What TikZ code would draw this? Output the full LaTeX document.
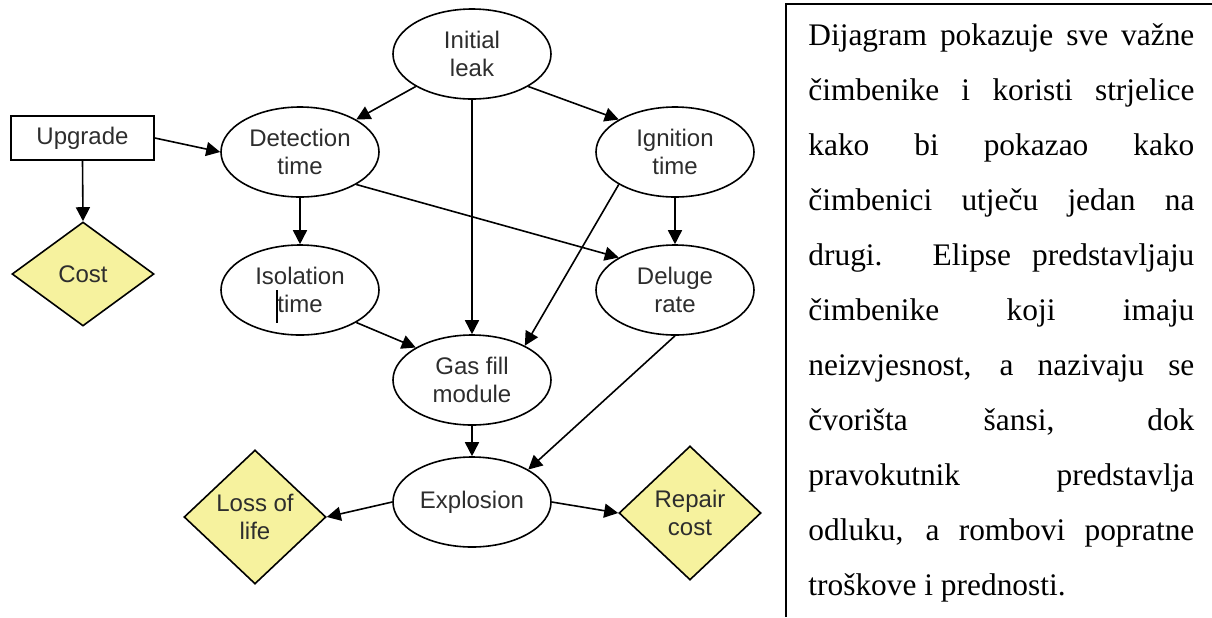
\documentclass[tikz,border=0pt]{standalone}
\usepackage{fontspec}
\setmainfont{Liberation Serif}
\newfontfamily\diagfont{Liberation Sans}
\usetikzlibrary{shapes.geometric,arrows.meta}

\definecolor{payoff}{RGB}{246,242,158}
\definecolor{ink}{RGB}{45,45,45}

\begin{document}
\begin{tikzpicture}[x=0.5pt,y=-0.5pt,
  every node/.style={font=\diagfont\fontsize{12}{14}\selectfont, text=ink},
  chance/.style={ellipse, draw, line width=0.8pt, minimum width=79pt, minimum height=45pt, inner sep=0pt, align=center},
  decision/.style={rectangle, draw, line width=0.8pt, minimum width=71.5pt, minimum height=22pt, inner sep=0pt},
  value/.style={diamond, draw, line width=0.8pt, fill=payoff, minimum width=71pt, minimum height=67pt, inner sep=0pt, align=center},
  link/.style={line width=0.8pt, -{Triangle[length=7pt,width=7pt]}},
  para/.style={anchor=base west, inner sep=0pt, text=black, font=\fontsize{15.7}{18}\selectfont},
]
\useasboundingbox (0,0) rectangle (1212,617);

% influence diagram
\node[chance] (leak) at (472,54) {Initial\\leak};
\node[chance] (det) at (300,152) {Detection\\time};
\node[chance] (ign) at (675,152) {Ignition\\time};
\node[chance] (iso) at (300,290) {Isolation\\time};
\node[chance] (del) at (675,290) {Deluge\\rate};
\node[chance] (gas) at (472,380) {Gas fill\\module};
\node[chance] (exp) at (472,502) {Explosion};
\node[decision] (up) at (82.5,138) {Upgrade};
\node[value, minimum height=52pt] (cost) at (83,274) {Cost};
\node[value] (loss) at (255,517) {Loss of\\life};
\node[value] (rep) at (690,513) {Repair\\cost};

% text cursor left inside "Isolation time"
\draw[line width=0.6pt] (277,290) -- (277,323);

\draw[link] (leak.210) -- (det.30);
\draw[link] (leak.-30) -- (ign.150);
\draw[link] (leak.south) -- (gas.north);
\draw[link] (up.east) -- (det.west);
\draw[link] (up.south) -- (cost.north);
\draw[link] (det.south) -- (iso.north);
\draw[link] (det.-30) -- (del.150);
\draw[link] (ign.south) -- (del.north);
\draw[link] (ign.210) -- (gas.33);
\draw[link] (iso.-30) -- (gas.150);
\draw[link] (gas.south) -- (exp.north);
\draw[link] (del.south) -- (exp.30);
\draw[link] (exp.west) -- (loss.east);
\draw[link] (exp.east) -- (rep.west);

% explanatory text frame
\draw[line width=0.9pt] (786,617) -- (786,4) -- (1212,4);
\node[para] (t1) at (808,45) {\makebox[193pt][s]{Dijagram pokazuje sve važne}};
\node[para] (t2) at (808,100) {\makebox[193pt][s]{čimbenike i koristi strjelice}};
\node[para] (t3) at (808,155) {\makebox[193pt][s]{kako bi pokazao kako}};
\node[para] (t4) at (808,210) {\makebox[193pt][s]{čimbenici utječu jedan na}};
\node[para] (t5) at (808,265) {\makebox[193pt][s]{drugi. Elipse predstavljaju}};
\node[para] (t6) at (808,320) {\makebox[193pt][s]{čimbenike koji imaju}};
\node[para] (t7) at (808,375) {\makebox[193pt][s]{neizvjesnost, a nazivaju se}};
\node[para] (t8) at (808,430) {\makebox[193pt][s]{čvorišta šansi, dok}};
\node[para] (t9) at (808,485) {\makebox[193pt][s]{pravokutnik predstavlja}};
\node[para] (t10) at (808,540) {\makebox[193pt][s]{odluku, a rombovi popratne}};
\node[para] (t11) at (808,595) {troškove i prednosti.};
\end{tikzpicture}
\end{document}
